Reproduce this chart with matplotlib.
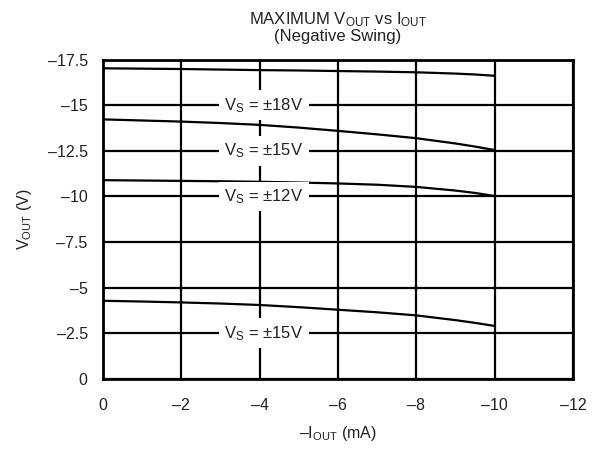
import matplotlib
matplotlib.use("Agg")
import matplotlib.pyplot as plt

plt.rcParams["font.family"] = ["Liberation Sans", "DejaVu Sans"]
plt.rcParams["mathtext.fontset"] = "custom"
plt.rcParams["mathtext.rm"] = "Liberation Sans"
plt.rcParams["mathtext.default"] = "regular"

# ------------------------------------------------------------
# DATA
# ------------------------------------------------------------
i_out = [0, -1, -2, -3, -4, -5, -6, -7, -8, -9, -9.5, -10]

v_18 = [-17.02, -17.00, -16.98, -16.95, -16.92, -16.90, -16.87, -16.84,
        -16.80, -16.73, -16.68, -16.61]
v_15 = [-14.22, -14.16, -14.10, -14.02, -13.92, -13.77, -13.59, -13.40,
        -13.19, -12.90, -12.73, -12.54]
v_12 = [-10.89, -10.87, -10.85, -10.83, -10.80, -10.76, -10.71, -10.64,
        -10.52, -10.32, -10.19, -10.02]
v_15_low = [-4.28, -4.24, -4.19, -4.13, -4.05, -3.93, -3.79, -3.65,
            -3.48, -3.22, -3.07, -2.90]

curves = [v_18, v_15, v_12, v_15_low]

labels = [r"V$_{S}$ = ±18V", r"V$_{S}$ = ±15V", r"V$_{S}$ = ±12V", r"V$_{S}$ = ±15V"]
label_y = [-15, -12.5, -10, -2.5]
label_x = -4.1

x_ticks = [0, -2, -4, -6, -8, -10, -12]
x_ticklabels = ["0", "–2", "–4", "–6", "–8", "–10", "–12"]
y_ticks = [0, -2.5, -5, -7.5, -10, -12.5, -15, -17.5]
y_ticklabels = ["0", "–2.5", "–5", "–7.5", "–10", "–12.5", "–15", "–17.5"]

# ------------------------------------------------------------
# PLOT
# ------------------------------------------------------------
fig = plt.figure(figsize=(6, 4.5), dpi=100)
ax = fig.add_axes([0.1717, 0.158, 0.7833, 0.7097])

for v in curves:
    ax.plot(i_out, v, color="black", linewidth=1.6, zorder=3)

for t, y in zip(labels, label_y):
    ax.text(label_x, y, t, ha="center", va="center", fontsize=12,
            color="#222222", zorder=4,
            bbox=dict(facecolor="white", edgecolor="none", pad=4))

ax.set_xlim(0, -12)
ax.set_ylim(0, -17.5)
ax.set_xticks(x_ticks)
ax.set_xticklabels(x_ticklabels)
ax.set_yticks(y_ticks)
ax.set_yticklabels(y_ticklabels)
ax.tick_params(length=0, labelsize=11.5, labelcolor="#222222")
ax.tick_params(axis="x", pad=14)
ax.tick_params(axis="y", pad=11)
ax.grid(True, color="black", linewidth=1.6, zorder=1)
ax.set_axisbelow(True)
for s in ax.spines.values():
    s.set_linewidth(2.0)

ax.set_xlabel(r"–I$_{OUT}$ (mA)", fontsize=11.5, labelpad=8, color="#222222")
ax.set_ylabel(r"V$_{OUT}$ (V)", fontsize=11.5, labelpad=10, color="#222222")

fig.text(0.563, 0.957, r"MAXIMUM V$_{OUT}$ vs I$_{OUT}$", ha="center",
         va="center", fontsize=12, color="#222222")
fig.text(0.563, 0.918, "(Negative Swing)", ha="center", va="center",
         fontsize=12, color="#222222")

fig.savefig("out.png", dpi=100)
plt.close(fig)
